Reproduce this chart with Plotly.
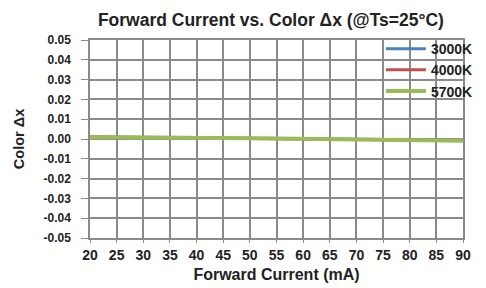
import plotly.graph_objects as go

current_ma = [20, 25, 30, 35, 40, 45, 50, 55, 60, 65, 70, 75, 80, 85, 90]
dx_3000k = [0.0010, 0.0010, 0.0009, 0.0008, 0.0007, 0.0005, 0.0003, 0.0002, 0.0001, 0.0000, -0.0001, -0.0003, -0.0005, -0.0006, -0.0007]
dx_4000k = [0.0010, 0.0009, 0.0008, 0.0007, 0.0006, 0.0004, 0.0003, 0.0001, 0.0000, -0.0001, -0.0002, -0.0004, -0.0005, -0.0007, -0.0008]
dx_5700k = [0.0009, 0.0009, 0.0008, 0.0008, 0.0006, 0.0005, 0.0004, 0.0002, 0.0001, 0.0000, -0.0001, -0.0003, -0.0005, -0.0007, -0.0009]

y_tickvals = [0.05, 0.04, 0.03, 0.02, 0.01, 0.0, -0.01, -0.02, -0.03, -0.04, -0.05]
y_ticktext = ["0.05", "0.04", "0.03", "0.02", "0.01", "0.00", "-0.01", "-0.02", "-0.03", "-0.04", "-0.05"]
x_tickvals = current_ma

series = [
    ("3000K", dx_3000k, "#4f81bd"),
    ("4000K", dx_4000k, "#c0504d"),
    ("5700K", dx_5700k, "#9bbb59"),
]

FONT = "Liberation Sans, Arial, sans-serif"

fig = go.Figure()
for name, vals, color in series:
    fig.add_trace(go.Scatter(
        x=current_ma, y=vals, name="<b>%s</b>" % name, mode="lines",
        line=dict(color=color, width=4 if name == "5700K" else 3),
    ))

fig.update_layout(
    width=478, height=280,
    margin=dict(l=82, r=8, t=32, b=50),
    paper_bgcolor="white", plot_bgcolor="white",
    font=dict(family=FONT, color="#222222", size=11),
    title=dict(
        text="<b>Forward Current vs. Color Δx (@Ts=25°C)</b>",
        x=0.55, xanchor="center", y=0.957, yanchor="middle",
        font=dict(size=17.5, color="#222222", family=FONT),
    ),
    showlegend=True,
    legend=dict(
        x=0.78, xanchor="left", y=1.035, yanchor="top",
        bgcolor="rgba(0,0,0,0)", borderwidth=0,
        font=dict(size=14, color="#222222", family=FONT),
        itemwidth=40, tracegroupgap=0,
    ),
    xaxis=dict(
        range=[20, 90], tickvals=x_tickvals,
        ticktext=["<b>%d</b>" % v for v in x_tickvals],
        showgrid=True, gridcolor="#8a8a8a", gridwidth=1.5,
        showline=True, linecolor="#8a8a8a", linewidth=1.5, mirror=True,
        ticks="outside", ticklen=3, tickcolor="#8a8a8a",
        tickfont=dict(size=14, family=FONT, color="#222222"),
        zeroline=False, automargin=False,
        title=dict(text="<b>Forward Current (mA)</b>", font=dict(size=16, family=FONT, color="#222222"), standoff=7),
    ),
    yaxis=dict(
        range=[-0.05, 0.05], tickvals=y_tickvals,
        ticktext=["<b>%s</b>" % t for t in y_ticktext],
        showgrid=True, gridcolor="#8a8a8a", gridwidth=1.5,
        showline=True, linecolor="#8a8a8a", linewidth=1.5, mirror=True,
        ticks="outside", ticklen=7, tickcolor="#8a8a8a",
        ticklabelstandoff=8,
        tickfont=dict(size=12, family=FONT, color="#222222"),
        zeroline=False, automargin=False,
        title=dict(text="<b>Color Δx</b>", font=dict(size=14.5, family=FONT, color="#222222"), standoff=15),
    ),
)

fig.write_html("out.html")
